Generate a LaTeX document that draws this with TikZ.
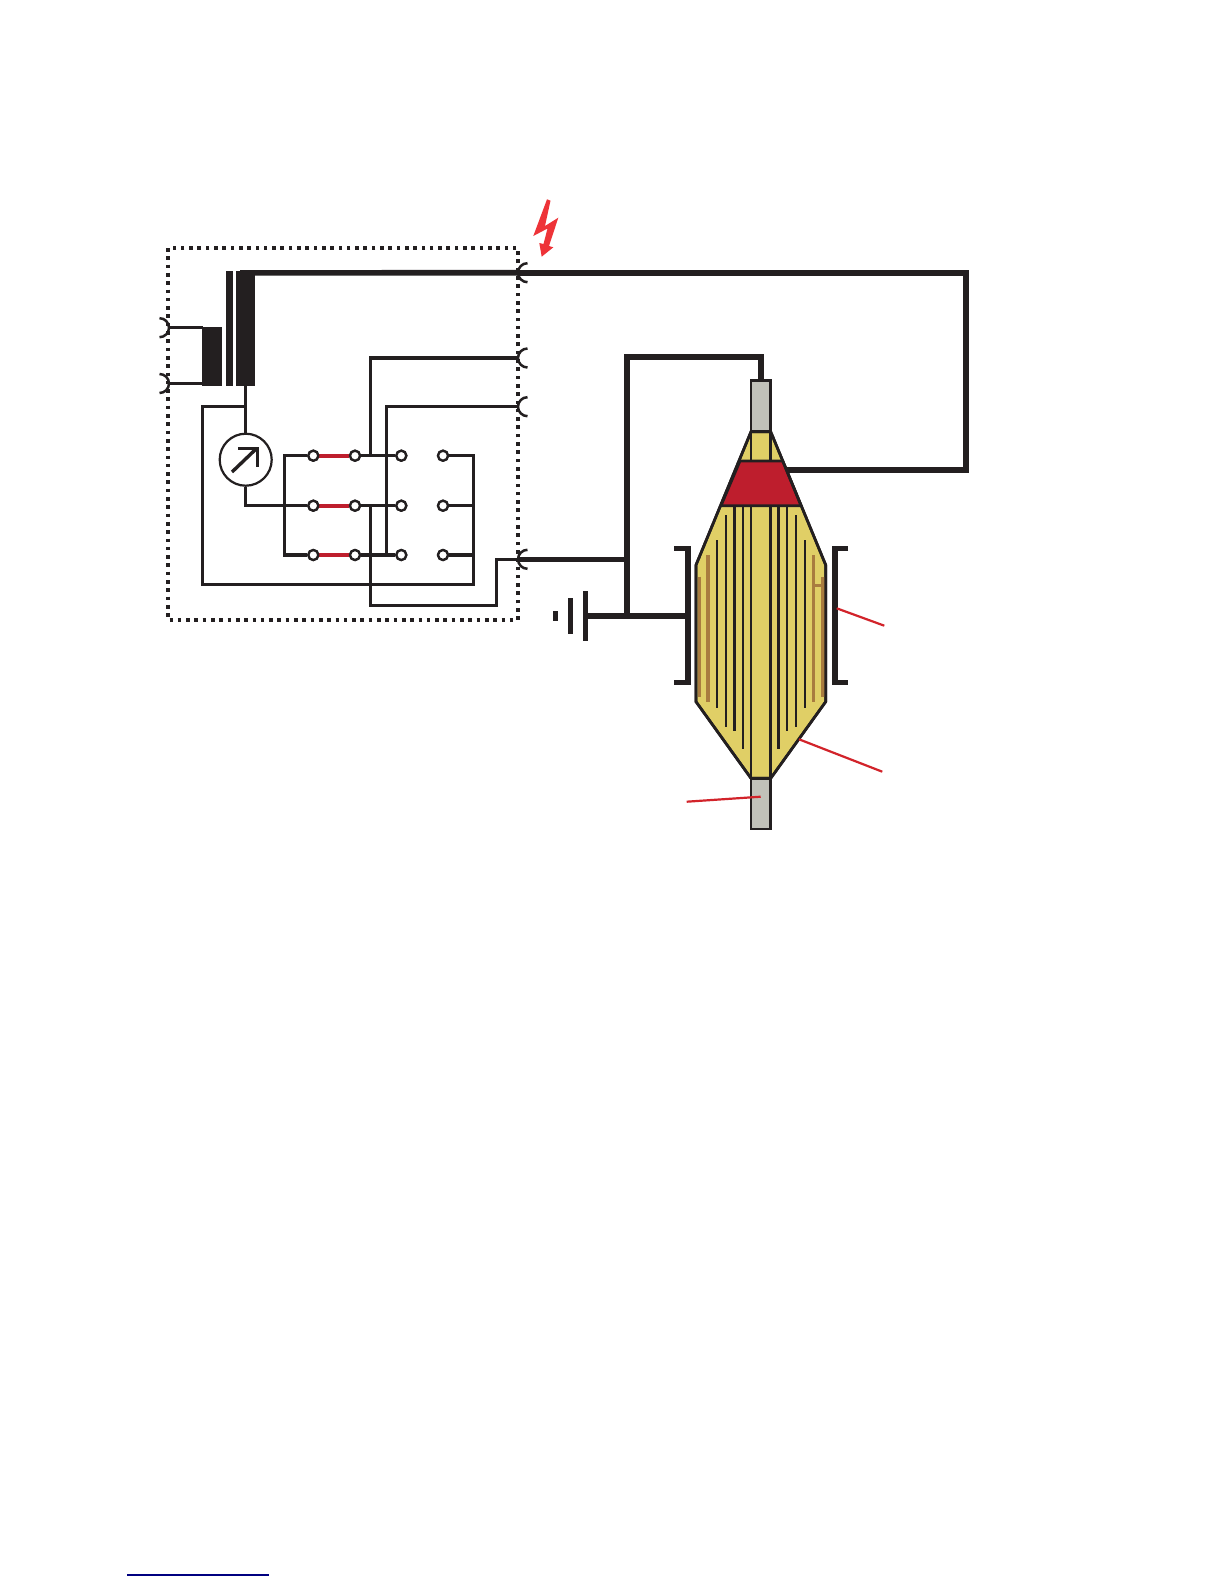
\documentclass[tikz,border=0pt]{standalone}
\definecolor{ink}{HTML}{231F20}
\definecolor{bodyy}{HTML}{E0CF66}
\definecolor{redb}{HTML}{BE1E2D}
\definecolor{brownb}{HTML}{A97C3F}
\definecolor{grayb}{HTML}{C1C1B9}
\definecolor{leader}{HTML}{D2232A}
\definecolor{bolt}{HTML}{EE3338}
\tikzset{
  thin wire/.style={draw=ink,line width=3.2pt,line join=miter},
  thick wire/.style={draw=ink,line width=5.6pt,line join=miter},
  plate/.style={fill=ink,draw=none},
  outline/.style={draw=ink,line width=2.7pt,line join=miter},
  contact/.style={circle,draw=ink,fill=white,line width=2.3pt,minimum size=10pt,inner sep=0pt},
  leaderline/.style={draw=leader,line width=2.2pt},
  inner line/.style={draw=ink,line width=2.4pt},
  inner heavy/.style={draw=ink,line width=3.4pt},
  brown line/.style={draw=brownb,line width=3.6pt},
  terminal/.style={draw=ink,line width=2.5pt}
}
\begin{document}
\begin{tikzpicture}[x=1pt,y=-1pt]
\useasboundingbox (0,0) rectangle (1224,1584);
\fill[white] (0,0) rectangle (1224,1584);
% named points
\coordinate (T1) at (518,272.7);
\coordinate (T2) at (518,358);
\coordinate (T3) at (518,406.7);
\coordinate (T4) at (518,559.3);
\coordinate (L1) at (169,327.7);
\coordinate (L2) at (169,383.5);
\foreach \r/\y in {1/455.7,2/505.7,3/555}{
  \node[contact] (a\r) at (313.3,\y) {};
  \node[contact] (b\r) at (355,\y) {};
  \node[contact] (c\r) at (401.3,\y) {};
  \node[contact] (d\r) at (443,\y) {};
}
% dotted box
\draw[draw=ink,line width=3.2pt,dash pattern=on 3.6pt off 4.7pt] (168,248) rectangle (518,620);
% transformer
\fill[plate] (202.3,327) rectangle (222,385.7);
\fill[plate] (226,270.7) rectangle (233,385.7);
\fill[plate] (236,270.7) rectangle (255,385.7);
\draw[thin wire] (L1) -- (203,327.7);
\draw[thin wire] (L2) -- (203,383.5);
\draw[thick wire] (240,272.9) -- (T1);
% terminals
\foreach \p in {T1,T2,T3,T4}{
  \draw[terminal] ([shift={(9.5,-9.5)}]\p) arc[start angle=90,end angle=270,radius=9.5pt];
}
\foreach \p in {L1,L2}{
  \draw[terminal] ([shift={(-9.5,-9.5)}]\p) arc[start angle=90,end angle=-90,radius=9.5pt];
}
% meter
\node[circle,draw=ink,fill=white,line width=2.2pt,minimum size=52pt,inner sep=0pt] (M) at (245.7,459.7) {};
\draw[thin wire] (245.7,385.7) -- (M.north);
\draw[thin wire,line width=3.4pt] (232,472) -- (256,449);
\draw[thin wire,line width=3pt] (238,448) -- (257.5,448) -- (257.5,467);
\draw[thin wire] (M.south) |- (a2);
% wires in the switch
\draw[thin wire] (245.7,406.7) -| (202.7,584.7) -| (473.3,455.7) -- (d1);
\draw[thin wire] (a1) -| (284.7,555) -- (a3);
\foreach \r in {1,2,3}{
  \draw[draw=redb,line width=4pt] (a\r) -- (b\r);
  \draw[thin wire] (b\r) -- (c\r);
}
\draw[thin wire] (d2) -- (473.3,505.7);
\draw[thin wire] (d3) -- (473.3,555);
\draw[thin wire] (T2) -| (370.7,455.7);
\draw[thin wire] (T3) -| (386.7,555);
\draw[thin wire] (370.7,505.7) |- (496.7,605.7) |- (T4);
\foreach \r in {1,2,3}{
  \node[contact] at (a\r) {};
  \node[contact] at (b\r) {};
  \node[contact] at (c\r) {};
  \node[contact] at (d\r) {};
}
% ground and HV leads
\draw[thick wire] (T4) -- (627,559.3);
\draw[thick wire] (761,381) -- (761,357) -| (627,615.7);
\draw[thick wire] (585.3,615.7) -- (687.7,615.7);
\fill[plate] (582.8,591) rectangle (587.8,641);
\fill[plate] (568.3,598) rectangle (573,634);
\fill[plate] (553,611) rectangle (558.3,621);
% brackets
\draw[thick wire] (674,548.3) -- (687.7,548.3) -- (687.7,682.3) -- (674,682.3);
\draw[thick wire] (848,548.3) -- (835,548.3) -- (835,682.3) -- (848,682.3);
% bushing
\filldraw[fill=grayb,outline] (751,380.7) rectangle (770.7,431.7);
\filldraw[fill=grayb,outline] (751,778.3) rectangle (770.7,829);
\filldraw[fill=bodyy,outline] (751,431.7) -- (770.7,431.7) -- (825.7,565) -- (825.7,701.7) -- (770.7,778.3) -- (751,778.3) -- (696,701.7) -- (696,565) -- cycle;
% foils
\draw[brown line] (708,555) -- (708,701.7);
\draw[brown line] (699.3,576.7) -- (699.3,696.7);
\draw[brown line] (813.3,555) -- (813.3,701.7);
\draw[brown line] (822.7,576.7) -- (822.7,696.7);
\draw[brown line,line width=2.6pt] (813.3,585.7) -- (822.7,585.7);
\draw[inner line] (717,540) -- (717,708.3);
\draw[inner line] (726,515) -- (726,726.7);
\draw[inner heavy] (734.3,505.7) -- (734.3,731);
\draw[inner line] (743,505.7) -- (743,749);
\draw[inner heavy] (778.3,505.7) -- (778.3,749);
\draw[inner line] (787,505.7) -- (787,731);
\draw[inner line] (795.7,515) -- (795.7,726.7);
\draw[inner line] (805,540) -- (805,708.3);
\draw[inner line,line width=2.7pt] (751,431.7) -- (751,778.3);
\draw[inner line,line width=2.9pt] (770.7,431.7) -- (770.7,778.3);
\filldraw[fill=redb,outline] (740,461) -- (782.7,461) -- (801,505.7) -- (721,505.7) -- cycle;
\draw[outline] (751,431.7) -- (696,565) -- (696,701.7) -- (751,778.3) -- (770.7,778.3) -- (825.7,701.7) -- (825.7,565) -- (770.7,431.7) -- cycle;
% HV loop
\draw[thick wire,line width=6pt] (T1) -- (966,272.7) |- (786.7,470);
% leaders
\draw[leaderline] (836.7,608.3) -- (884.3,625.7);
\draw[leaderline] (799,739.3) -- (882.3,771.7);
\draw[leaderline] (760.7,796.7) -- (686.7,801.7);
% lightning
\fill[bolt] (547,199.3) -- (550.5,200.7) -- (545,226) -- (558.3,217.7) -- (549,246) -- (553.3,247.3) -- (541.7,256.7) -- (539.3,243) -- (543.5,244) -- (547.5,228.5) -- (533.3,236) -- cycle;
% rule at the foot
\draw[draw=blue!50!black,line width=1.2pt] (127,1575) -- (269,1575);
\end{tikzpicture}
\end{document}
